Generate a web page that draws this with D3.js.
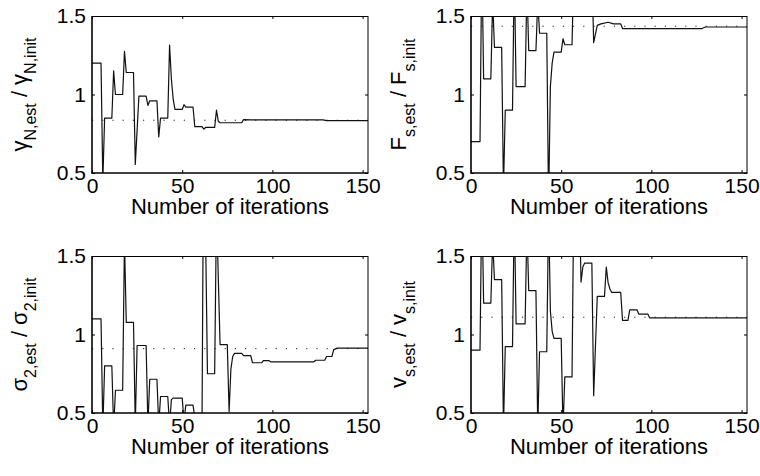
<!DOCTYPE html>
<html>
<head>
<meta charset="utf-8">
<script src="https://cdn.jsdelivr.net/npm/d3@7"></script>
<style>
  body { margin: 0; background: #fff; }
  svg { display: block; }
  text { font-family: "Liberation Sans", Arial, Helvetica, sans-serif; fill: #000; }
</style>
</head>
<body>
<svg id="fig" width="760" height="476"></svg>
<script>
// Axis ticks shared by all four panels
const iterationTicks = [0, 50, 100, 150];
const ratioTicks = [0.5, 1, 1.5];
const ratioTickLabels = ["0.5", "1", "1.5"];
const xLabel = "Number of iterations";
const iterationMax = 153;
const ratioMin = 0.5, ratioMax = 1.5;

// Estimated / initial ratio per iteration: [iteration, ratio]
const gammaN = [
  [0, 1.2], [5, 1.2], [6, 0.45], [7, 0.85], [11, 0.85], [12, 1.15], [13, 1.0], [17, 1.0],
  [18, 1.275], [19, 1.14], [23, 1.14], [24, 0.555], [26, 0.99], [30, 0.99], [31, 0.93],
  [32, 0.96], [36, 0.96], [37, 0.73], [38, 0.85], [42, 0.85], [43, 1.315], [44, 1.1],
  [45, 0.97], [46, 0.905], [50, 0.905], [51, 0.935], [52, 0.92], [56, 0.92], [57, 0.795],
  [61, 0.795], [62, 0.78], [63, 0.79], [68, 0.79], [69, 0.9], [70, 0.83], [71, 0.82],
  [83, 0.82], [84, 0.84], [88, 0.838], [128, 0.838], [130, 0.834], [153, 0.834]
];
const forceS = [
  [0, 0.7], [5, 0.7], [6, 1.9], [7, 1.1], [11, 1.1], [12, 1.6], [13, 1.3], [17, 1.3],
  [18, 0.4], [19, 0.9], [23, 0.9], [24, 1.8], [25, 1.05], [30, 1.05], [31, 1.7], [32, 1.28],
  [36, 1.28], [37, 1.6], [38, 1.39], [42, 1.39], [43, 0.3], [44, 1.05], [45, 1.2], [46, 1.27],
  [50, 1.27], [51, 1.355], [52, 1.317], [56, 1.317], [57, 1.8], [67, 1.8], [68, 1.33],
  [70, 1.44], [72, 1.45], [76, 1.46], [79, 1.45], [83, 1.45], [84, 1.42], [128, 1.42],
  [130, 1.43], [153, 1.43]
];
const sigma2 = [
  [0, 1.1], [5, 1.1], [6, 0.4], [7, 0.8], [11, 0.8], [12, 0.4], [13, 0.645], [17, 0.645],
  [18, 1.6], [19, 1.077], [23, 1.077], [24, 0.42], [25, 0.93], [30, 0.93], [31, 0.42],
  [32, 0.715], [36, 0.715], [37, 0.42], [38, 0.605], [42, 0.605], [43, 0.42], [44, 0.585],
  [45, 0.595], [50, 0.595], [51, 0.45], [52, 0.55], [56, 0.55], [57, 0.47], [61, 0.45],
  [62, 2.5], [63, 1.6], [64, 0.75], [68, 0.75], [69, 1.8], [71, 0.936], [75, 0.936],
  [76, 0.51], [77, 0.78], [78, 0.86], [79, 0.88], [83, 0.88], [84, 0.865], [88, 0.865],
  [89, 0.82], [94, 0.82], [95, 0.834], [98, 0.834], [99, 0.826], [123, 0.826], [124, 0.836],
  [129, 0.836], [130, 0.86], [133, 0.86], [134, 0.904], [136, 0.913], [153, 0.913]
];
const velS = [
  [0, 0.9], [5, 0.9], [6, 1.9], [7, 1.2], [11, 1.2], [12, 1.6], [13, 1.35], [17, 1.35],
  [18, 0.4], [19, 0.923], [23, 0.923], [24, 1.8], [25, 1.068], [30, 1.068], [31, 1.7],
  [32, 1.28], [36, 1.28], [37, 0.4], [38, 0.89], [42, 0.89], [43, 1.8], [44, 1.15],
  [45, 1.02], [46, 0.975], [50, 0.975], [51, 0.4], [52, 0.73], [56, 0.73], [57, 1.9],
  [60, 1.9], [61, 1.334], [62, 1.43], [63, 1.455], [67, 1.455], [68, 0.61], [70, 1.243],
  [74, 1.243], [75, 1.43], [76, 1.33], [77, 1.29], [78, 1.268], [83, 1.268], [84, 1.09],
  [87, 1.09], [88, 1.157], [92, 1.157], [93, 1.13], [98, 1.13], [99, 1.106], [153, 1.106]
];

// True ratio of each parameter (dotted reference)
const referenceRatios = [0.836, 1.435, 0.91, 1.11];

// Axis titles: symbol with subscript, over the same symbol with its initial subscript
const yTitles = [
  [["γ", "N,est"], ["γ", "N,init"]],
  [["F", "s,est"], ["F", "s,init"]],
  [["σ", "2,est"], ["σ", "2,init"]],
  [["v", "s,est"], ["v", "s,init"]]
];

const seriesList = [gammaN, forceS, sigma2, velS];

// Panel frames
const frames = [
  { left: 92, top: 16 },
  { left: 471, top: 16 },
  { left: 92, top: 256 },
  { left: 471, top: 256 }
];
const plotW = 276, plotH = 157;
const fontFamily = '"Liberation Sans", Arial, Helvetica, sans-serif';

const svg = d3.select("#fig");

seriesList.forEach((series, i) => {
  const f = frames[i];
  const g = svg.append("g").attr("transform", `translate(${f.left},${f.top})`);

  const x = d3.scaleLinear().domain([0, iterationMax]).range([0, plotW]);
  const y = d3.scaleLinear().domain([ratioMin, ratioMax]).range([plotH, 0]);

  const clipId = "clip" + i;
  g.append("clipPath").attr("id", clipId)
    .append("rect").attr("x", 0).attr("y", 0).attr("width", plotW).attr("height", plotH);

  // Dotted reference level
  g.append("path")
    .datum([[0, referenceRatios[i]], [iterationMax, referenceRatios[i]]])
    .attr("d", d3.line().x(d => x(d[0])).y(d => y(d[1])))
    .attr("fill", "none")
    .attr("stroke", "#222")
    .attr("stroke-width", 1)
    .attr("stroke-dasharray", "1.2,9");

  // Estimate trace
  g.append("path")
    .datum(series)
    .attr("clip-path", `url(#${clipId})`)
    .attr("d", d3.line().x(d => x(d[0])).y(d => y(d[1])))
    .attr("fill", "none")
    .attr("stroke", "#111")
    .attr("stroke-width", 1.2)
    .attr("stroke-linejoin", "round");

  // Inward ticks on all four sides
  const fmtY = d => ratioTickLabels[ratioTicks.indexOf(d)];
  const axB = g.append("g").attr("transform", `translate(0,${plotH})`)
    .call(d3.axisBottom(x).tickValues(iterationTicks).tickSize(-3).tickPadding(5).tickFormat(d3.format("d")));
  const axT = g.append("g")
    .call(d3.axisTop(x).tickValues(iterationTicks).tickSize(-3).tickFormat(""));
  const axL = g.append("g")
    .call(d3.axisLeft(y).tickValues(ratioTicks).tickSize(-3).tickPadding(6).tickFormat(fmtY));
  const axR = g.append("g").attr("transform", `translate(${plotW},0)`)
    .call(d3.axisRight(y).tickValues(ratioTicks).tickSize(-3).tickFormat(""));
  [axB, axT, axL, axR].forEach(a => {
    a.select(".domain").remove();
    a.selectAll(".tick line").attr("stroke", "#000").attr("stroke-width", 1);
    a.selectAll("text").attr("font-size", 21).attr("fill", "#000")
      .style("font-family", fontFamily);
  });

  // Box: heavier bottom/left edges
  g.append("line").attr("x1", 0).attr("x2", plotW).attr("y1", 0.5).attr("y2", 0.5)
    .attr("stroke", "#000").attr("stroke-width", 1);
  g.append("line").attr("x1", plotW).attr("x2", plotW).attr("y1", 0).attr("y2", plotH)
    .attr("stroke", "#000").attr("stroke-width", 1);
  g.append("line").attr("x1", -0.8).attr("x2", plotW + 0.5).attr("y1", plotH).attr("y2", plotH)
    .attr("stroke", "#000").attr("stroke-width", 1.7);
  g.append("line").attr("x1", 0).attr("x2", 0).attr("y1", 0).attr("y2", plotH)
    .attr("stroke", "#000").attr("stroke-width", 1.6);

  // x title
  g.append("text")
    .attr("x", plotW / 2).attr("y", plotH + 41)
    .attr("text-anchor", "middle")
    .attr("font-size", 22)
    .text(xLabel);

  // y title, rotated, with subscripts
  const bx = -65, by = plotH / 2;
  const t = g.append("text")
    .attr("transform", `translate(${bx},${by}) rotate(-90)`)
    .attr("text-anchor", "middle")
    .attr("font-size", 22);
  const [num, den] = yTitles[i];
  const shift = 9;
  t.append("tspan").text(num[0]);
  t.append("tspan").attr("font-size", 16).attr("dy", shift).text(num[1]);
  t.append("tspan").attr("dy", -shift).text(" / ");
  t.append("tspan").text(den[0]);
  t.append("tspan").attr("font-size", 16).attr("dy", shift).text(den[1]);
});
</script>
</body>
</html>
